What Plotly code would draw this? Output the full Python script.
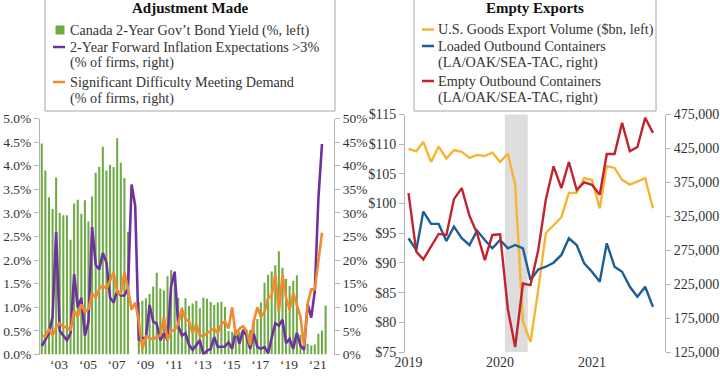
import plotly.graph_objects as go
import pandas as pd

# ---------------- data: left panel (quarterly, 2002Q1 - 2021Q4) ----------------
quarter_dates = [p.end_time.strftime("%Y-%m-%d") for p in pd.period_range("2002Q1", "2021Q4", freq="Q")]

canada_2y_yield = [
    4.47, 3.90, 3.33, 3.08, 3.75, 3.00, 2.95, 2.95,   # 2002-2003
    2.43, 3.20, 3.28, 2.98, 3.27, 2.82, 3.35, 3.85,   # 2004-2005
    3.98, 4.40, 3.90, 4.02, 3.97, 4.58, 4.06, 3.74,   # 2006-2007
    2.60, None, None, 1.10, 1.14, 1.19, 1.28, 1.44,   # 2008-2009
    1.73, 1.40, 1.36, 1.66, 1.79, 1.76, 1.20, 1.00,   # 2010-2011
    1.19, 1.03, 1.08, 1.14, 0.98, 1.20, 1.18, 1.11,   # 2012-2013
    1.05, 1.10, 1.12, 1.01, 0.50, 0.48, 0.52, 0.48,   # 2014-2015
    0.54, 0.52, 0.52, 0.74, 0.75, 1.10, 1.52, 1.69,   # 2016-2017
    1.76, 1.89, 2.19, 1.84, 1.60, 1.45, 1.56, 1.68,   # 2018-2019
    0.42, 0.29, 0.23, 0.19, 0.21, 0.44, 0.51, 1.04,   # 2020-2021
]

infl_expect_above3 = [
    1.8, 3.0, 4.5, 8.0, 26.0, 5.0, 4.0, 3.0,
    4.5, 17.0, 10.0, 12.0, 4.0, 7.0, 27.0, 19.0,
    18.0, 21.5, 19.5, 12.0, 11.0, 13.5, 12.5, 12.5,
    14.0, 36.0, 31.5, 3.0, 3.5, 3.5, 10.5, 7.0,
    6.5, 3.0, 4.5, 3.0, 14.5, 17.5, 6.0, 4.0,
    4.5, 2.0, 1.0, 2.0, 3.0, 0.0, 0.8, 1.2,
    3.7, 1.6, 1.6, 1.7, 2.6, 1.2, 5.1, 2.3,
    5.1, 4.0, 1.2, 4.4, 1.6, 1.2, 1.6, 0.3,
    3.5, 6.6, 6.1, 7.4, 2.4, 3.3, 1.2, 4.6,
    1.9, 1.0, 10.7, 7.8, 13.4, 33.0, 44.6, None,
]

difficulty_meeting_demand = [
    4.0, 3.8, 5.4, 4.0, 5.8, 6.6, 5.9, 5.8,
    5.1, 9.3, 7.9, 10.6, 9.0, 9.7, 12.9, 12.1,
    13.9, 14.6, 13.9, 15.7, 17.4, 13.2, 12.9, 17.4,
    14.0, 9.5, 11.0, 7.0, 1.2, 3.8, 3.5, 3.2,
    3.8, 4.0, 8.0, 3.0, 5.0, 5.2, 6.5, 9.7,
    7.5, 7.0, 4.5, 6.5, 4.0, 4.0, 4.5, 5.0,
    5.5, 4.5, 6.5, 7.0, 5.5, 10.0, 4.0, 5.5,
    6.0, 5.0, 2.0, 7.0, 10.0, 8.0, 9.0, 12.0,
    12.5, 17.0, 9.0, 17.0, 12.0, 9.5, 13.0, 10.5,
    8.0, 1.8, 10.8, 13.8, 13.8, 19.8, 25.8, None,
]

left_tick_years = [2003, 2005, 2007, 2009, 2011, 2013, 2015, 2017, 2019, 2021]
left_tick_text = ["\u201803", "\u201805", "\u201807", "\u201809", "\u201811",
                  "\u201813", "\u201815", "\u201817", "\u201819", "\u201821"]

# ---------------- data: right panel (monthly, Jan 2019 - Sep 2021) ----------------
month_dates = [d.strftime("%Y-%m-%d") for d in pd.date_range("2019-01-01", "2021-09-01", freq="MS")]

us_goods_exports_bn = [
    109.2, 108.8, 110.4, 107.0, 109.6, 107.6, 109.0, 108.7, 107.7, 108.2, 108.0, 108.6,
    107.0, 108.4, 103.2, 80.1, 76.7, 85.5, 95.0, 96.3, 97.7, 101.8, 101.8, 104.3,
    104.0, 99.2, 106.3, 106.0, 104.0, 103.2, 103.8, 104.3, 99.2,
]

loaded_outbound = [
    292600, 275300, 332000, 313800, 313800, 288600, 309800, 292600, 282700, 303900, 290100, 277800,
    290100, 277800, 282700, 277800, 231000, 246700, 250700, 256600, 268000, 292600, 282700, 255600,
    243300, 228500, 285200, 250700, 243300, 221100, 206300, 221100, 191500,
]

empty_outbound = [
    359100, 272900, 261500, 280300, 299000, 297500, 350300, 366500, 325600, 300000, 260500, 297500,
    298500, 187600, 132400, 226000, 223600, 275300, 349300, 398600, 366500, 405000, 364000, 375000,
    371500, 356700, 416800, 416800, 462700, 420800, 427200, 470100, 447900,
]

right_tick_dates = ["2019-01-01", "2020-01-01", "2021-01-01"]
right_tick_text = ["2019", "2020", "2021"]
recession_start, recession_end = "2020-01-20", "2020-04-20"

# ---------------- styles ----------------
GREEN = "#6dab45"
PURPLE = "#7030a0"
ORANGE = "#f28a2e"
YELLOW = "#f7b433"
BLUE = "#1d5f95"
RED = "#c1232f"
AXIS = "#b4b4b4"
TEXT = "#333333"
FONT = "Liberation Serif"
W, H = 720, 380


def px(x):
    return x / W


def py(y):
    return 1 - y / H


fig = go.Figure()

fig.add_trace(go.Bar(x=quarter_dates, y=canada_2y_yield, marker_color=GREEN,
                     marker_line_width=0, xaxis="x", yaxis="y",
                     name="Canada 2-Year Gov\u2019t Bond Yield (%, left)"))
fig.add_trace(go.Scatter(x=quarter_dates, y=infl_expect_above3, mode="lines",
                         line=dict(color=PURPLE, width=2.6), xaxis="x", yaxis="y2",
                         name="2-Year Forward Inflation Expectations >3%"))
fig.add_trace(go.Scatter(x=quarter_dates, y=difficulty_meeting_demand, mode="lines",
                         line=dict(color=ORANGE, width=2.6), xaxis="x", yaxis="y2",
                         name="Significant Difficulty Meeting Demand"))

fig.add_trace(go.Scatter(x=month_dates, y=us_goods_exports_bn, mode="lines",
                         line=dict(color=YELLOW, width=2.4), xaxis="x2", yaxis="y3",
                         name="U.S. Goods Export Volume ($bn, left)"))
fig.add_trace(go.Scatter(x=month_dates, y=loaded_outbound, mode="lines",
                         line=dict(color=BLUE, width=2.4), xaxis="x2", yaxis="y4",
                         name="Loaded Outbound Containers"))
fig.add_trace(go.Scatter(x=month_dates, y=empty_outbound, mode="lines",
                         line=dict(color=RED, width=2.4), xaxis="x2", yaxis="y4",
                         name="Empty Outbound Containers"))

tickfont = dict(family=FONT, size=13.5, color=TEXT)
tickfont_r = dict(family=FONT, size=14, color=TEXT)
yax_common = dict(showgrid=False, zeroline=False, showline=True, linecolor=AXIS, linewidth=1,
                  ticks="outside", ticklen=5, tickcolor=AXIS, tickwidth=1,
                  automargin=False)

fig.update_layout(
    width=W, height=H, margin=dict(l=0, r=0, t=0, b=0, autoexpand=False),
    paper_bgcolor="white", plot_bgcolor="white", showlegend=False,
    bargap=0.42, font=dict(family=FONT, color=TEXT),
    xaxis=dict(domain=[px(40), px(334)], anchor="y", type="date",
               range=["2002-02-14", "2022-08-01"],
               tickmode="array", tickvals=[f"{y}-06-15" for y in left_tick_years],
               ticktext=left_tick_text, showgrid=False, zeroline=False, showline=False,
               ticks="", tickfont=tickfont, automargin=False),
    yaxis=dict(domain=[py(354.5), py(118.5)], anchor="x", range=[0, 5], dtick=0.5, tick0=0,
               tickformat=".1f", ticksuffix="%", tickfont=tickfont, **yax_common),
    yaxis2=dict(overlaying="y", side="right", anchor="x", range=[0, 50], dtick=5, tick0=0,
                ticksuffix="%", tickfont=tickfont, **yax_common),
    xaxis2=dict(domain=[px(405), px(665)], anchor="y3", type="date",
                range=["2018-12-18", "2021-10-19"],
                tickmode="array", tickvals=right_tick_dates, ticktext=right_tick_text,
                showgrid=False, zeroline=False, showline=False, ticks="", tickfont=tickfont_r,
                automargin=False),
    yaxis3=dict(domain=[py(352), py(114.5)], anchor="x2", range=[75, 115], dtick=5, tick0=75,
                tickprefix="$", tickfont=tickfont_r, **yax_common),
    yaxis4=dict(overlaying="y3", side="right", anchor="x2", range=[125000, 475000],
                dtick=50000, tick0=125000, tickformat=",d", tickfont=tickfont_r, **yax_common),
)

shapes = [
    dict(type="rect", xref="x2", yref="y3 domain", x0=recession_start, x1=recession_end,
         y0=0, y1=1, fillcolor="#dddddd", line_width=0, layer="below"),
    # legend boxes
    dict(type="rect", xref="paper", yref="paper", x0=px(45), x1=px(335), y0=py(111), y1=py(-3),
         line=dict(color="#a6a6a6", width=1), fillcolor="rgba(0,0,0,0)"),
    dict(type="rect", xref="paper", yref="paper", x0=px(414), x1=px(656), y0=py(111), y1=py(-3),
         line=dict(color="#a6a6a6", width=1), fillcolor="rgba(0,0,0,0)"),
    # legend swatches
    dict(type="rect", xref="paper", yref="paper", x0=px(55.5), x1=px(64.5), y0=py(34.5), y1=py(25.5),
         fillcolor=GREEN, line_width=0),
    dict(type="line", xref="paper", yref="paper", x0=px(53), x1=px(65), y0=py(47), y1=py(47),
         line=dict(color=PURPLE, width=2.5)),
    dict(type="line", xref="paper", yref="paper", x0=px(53), x1=px(65), y0=py(82), y1=py(82),
         line=dict(color=ORANGE, width=2.5)),
    dict(type="line", xref="paper", yref="paper", x0=px(422), x1=px(434), y0=py(29.5), y1=py(29.5),
         line=dict(color=YELLOW, width=2.5)),
    dict(type="line", xref="paper", yref="paper", x0=px(422), x1=px(434), y0=py(46), y1=py(46),
         line=dict(color=BLUE, width=2.5)),
    dict(type="line", xref="paper", yref="paper", x0=px(422), x1=px(434), y0=py(81), y1=py(81),
         line=dict(color=RED, width=2.5)),
]
fig.update_layout(shapes=shapes)

legend_font = dict(family=FONT, size=14.2, color=TEXT)
title_font = dict(family=FONT, size=15, color="#111111")


def label(x, y, text, font=legend_font, anchor="left"):
    return dict(xref="paper", yref="paper", x=px(x), y=py(y), text=text, showarrow=False,
                xanchor=anchor, yanchor="middle", font=font)


annotations = [
    label(190, 8, "<b>Adjustment Made</b>", title_font, "center"),
    label(68, 30, "Canada 2-Year Gov\u2019t Bond Yield (%, left)"),
    label(68, 46.5, "2-Year Forward Inflation Expectations &gt;3%"),
    label(68, 62.5, "(% of firms, right)"),
    label(68, 81.5, "Significant Difficulty Meeting Demand"),
    label(68, 98, "(% of firms, right)"),
    label(535, 8, "<b>Empty Exports</b>", title_font, "center"),
    label(436, 29.5, "U.S. Goods Export Volume ($bn, left)"),
    label(436, 46, "Loaded Outbound Containers"),
    label(436, 62, "(LA/OAK/SEA-TAC, right)"),
    label(436, 81, "Empty Outbound Containers"),
    label(436, 97.5, "(LA/OAK/SEA-TAC, right)"),
]
fig.update_layout(annotations=annotations)

fig.write_html("out.html", config={"displayModeBar": False},
               post_script="document.body.style.margin='0';document.body.style.overflow='hidden';")
